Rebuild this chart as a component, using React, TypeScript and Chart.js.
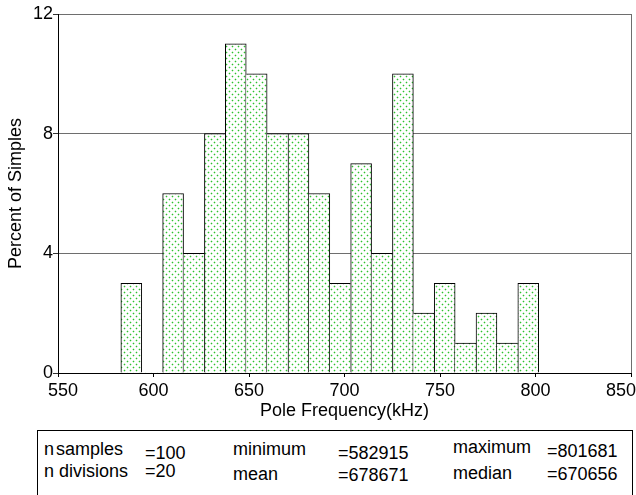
import React, { useEffect, useRef } from "react";
import { Chart, registerables } from "chart.js";

Chart.register(...registerables);

// ---- data ----
const percents = [3, 0, 6, 4, 8, 11, 10, 8, 8, 6, 3, 7, 4, 10, 2, 3, 1, 2, 1, 3];
const minimumHz = 582915;
const maximumHz = 801681;
const nDivisions = 20;
const xTickValues = [550, 600, 650, 700, 750, 800, 850];
const yTickValues = [0, 4, 8, 12];
const statsRow1 = ["n samples", "=100", "minimum", "=582915", "maximum", "=801681"];
const statsRow2 = ["n divisions", "=20", "mean", "=678671", "median", "=670656"];

const FONT = "'Liberation Sans', Arial, Helvetica, sans-serif";

function makeDotPattern(ctx: CanvasRenderingContext2D) {
  const c = document.createElement("canvas");
  c.width = 6;
  c.height = 6;
  const g = c.getContext("2d")!;
  g.fillStyle = "#ffffff";
  g.fillRect(0, 0, 6, 6);
  const dot = (x: number, y: number) => {
    g.fillStyle = "rgb(200,238,200)";
    g.fillRect(x - 1, y, 1, 1);
    g.fillRect(x + 1, y, 1, 1);
    g.fillRect(x, y - 1, 1, 1);
    g.fillRect(x, y + 1, 1, 1);
    g.fillStyle = "rgb(45,195,45)";
    g.fillRect(x, y, 1, 1);
  };
  dot(1, 1);
  dot(4, 4);
  return ctx.createPattern(c, "repeat")!;
}

export default function App() {
  const ref = useRef<HTMLCanvasElement | null>(null);

  useEffect(() => {
    const canvas = ref.current!;
    const ctx = canvas.getContext("2d")!;
    const pattern = makeDotPattern(ctx);
    const binWidth = (maximumHz - minimumHz) / 1000 / nDivisions;
    const points = percents.map((v, i) => ({
      x: minimumHz / 1000 + binWidth * (i + 0.5),
      y: v,
    }));

    const chart = new Chart(ctx, {
      type: "bar",
      data: {
        datasets: [
          {
            data: points as any,
            backgroundColor: pattern as any,
            borderColor: "#000000",
            borderWidth: ((c: any) => {
              const i = c.dataIndex;
              const v = percents[i];
              if (!v) return 0;
              const prev = i > 0 ? percents[i - 1] : 0;
              const next = i < percents.length - 1 ? percents[i + 1] : 0;
              return { top: 1, bottom: 0, left: v >= prev ? 1 : 0, right: v > next ? 1 : 0 };
            }) as any,
            barPercentage: 1,
            categoryPercentage: 1,
          },
        ],
      },
      options: {
        animation: false,
        responsive: false,
        devicePixelRatio: 1,
        layout: { padding: { left: 0, right: 5, top: 14, bottom: 5 } },
        plugins: { legend: { display: false }, tooltip: { enabled: false } },
        scales: {
          x: {
            type: "linear",
            min: 550,
            max: 850,
            offset: false,
            afterBuildTicks: (s: any) => {
              s.ticks = xTickValues.map((v) => ({ value: v }));
            },
            afterFit: (s: any) => {
              s.height = 52;
              s.paddingLeft = 0;
              s.paddingRight = 0;
            },
            grid: {
              offset: false,
              drawOnChartArea: true,
              drawTicks: true,
              tickLength: 4,
              color: (c: any) => (c.tick && c.tick.value === 850 ? "#6e6e6e" : "rgba(0,0,0,0)"),
              tickColor: "#000000",
            },
            border: { display: true, color: "#000000", width: 1 },
            ticks: {
              color: "#000000",
              font: { family: FONT, size: 18 },
              padding: 3,
              maxRotation: 0,
              autoSkip: false,
              callback: (v: any) => {
                const s = String(v);
                if (v === xTickValues[xTickValues.length - 1]) return s + "    ";
                if (v === xTickValues[0]) return "  " + s;
                return s;
              },
            },
            title: {
              display: true,
              text: "Pole Frequency(kHz)",
              color: "#000000",
              font: { family: FONT, size: 18 },
              padding: { top: 0, bottom: 3 },
            },
          },
          y: {
            type: "linear",
            min: 0,
            max: 12,
            afterBuildTicks: (s: any) => {
              s.ticks = yTickValues.map((v) => ({ value: v }));
            },
            afterFit: (s: any) => {
              s.width = 58;
              s.paddingTop = 0;
              s.paddingBottom = 0;
            },
            grid: {
              drawOnChartArea: true,
              drawTicks: true,
              tickLength: 5,
              color: "#6e6e6e",
              tickColor: "#333333",
            },
            border: { display: true, color: "#000000", width: 1 },
            ticks: {
              color: "#000000",
              font: { family: FONT, size: 18 },
              padding: 0,
            },
            title: {
              display: true,
              text: "Percent of Simples",
              color: "#000000",
              font: { family: FONT, size: 18 },
              padding: { top: 5, bottom: 0 },
            },
          },
        },
      },
    });
    return () => chart.destroy();
  }, []);

  const colX = [44, 145, 233, 338, 453, 547];
  const row1Base = [455, 459, 455, 459, 453, 457];
  const row2Base = [477, 477, 480, 481, 479, 480];

  const textStyle = (x: number, baseline: number): React.CSSProperties => ({
    position: "absolute",
    left: x,
    top: baseline - 16,
    fontFamily: FONT,
    fontSize: 18,
    lineHeight: "20px",
    color: "#000",
    whiteSpace: "pre",
  });

  return (
    <div
      style={{
        position: "fixed",
        left: 0,
        top: 0,
        width: 636,
        height: 495,
        overflow: "hidden",
        background: "#fff",
      }}
    >
      <canvas ref={ref} width={636} height={430} style={{ position: "absolute", left: 0, top: 0, width: 636, height: 430 }} />
      <div
        style={{
          position: "absolute",
          left: 37,
          top: 430,
          width: 594,
          height: 70,
          borderLeft: "1px solid #000",
          borderTop: "1px solid #000",
          borderRight: "1px solid #000",
        }}
      />
      {statsRow1.map((t, i) => (
        <span key={"a" + i} style={{ ...textStyle(colX[i], row1Base[i]), wordSpacing: i === 0 ? "-3px" : undefined }}>
          {t}
        </span>
      ))}
      {statsRow2.map((t, i) => (
        <span key={"b" + i} style={textStyle(colX[i], row2Base[i])}>
          {t}
        </span>
      ))}
    </div>
  );
}
